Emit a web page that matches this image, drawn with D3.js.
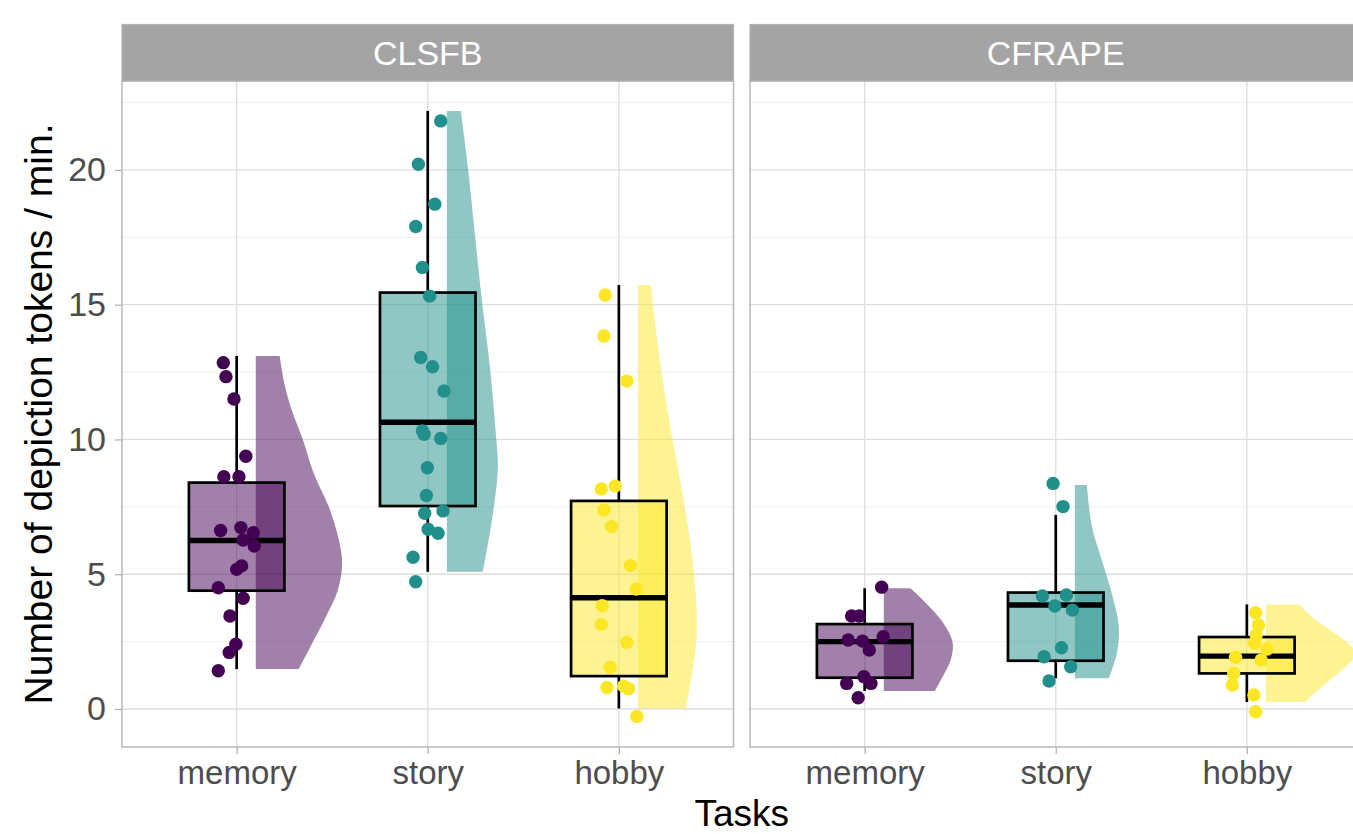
<!DOCTYPE html>
<html>
<head>
<meta charset="utf-8">
<script src="https://cdn.jsdelivr.net/npm/d3@7"></script>
<style>
  body { margin: 0; background: #fff; }
  svg { display: block; }
  text { font-family: "Liberation Sans", Arial, Helvetica, sans-serif; }
</style>
</head>
<body>
<svg id="chart" width="1353" height="834"></svg>
<script>
// ---- categories ----
const tasks = ["memory", "story", "hobby"];
const languages = ["CLSFB", "CFRAPE"];
const taskColors = ["#440154", "#21908C", "#FDE725"];
const yTicks = [0, 5, 10, 15, 20];
const yMinorTicks = [2.5, 7.5, 12.5, 17.5, 22.5];

// ---- box statistics, order: CLSFB memory/story/hobby, CFRAPE memory/story/hobby ----
const whiskerLow  = [1.48, 5.09, 0.02, 0.67, 1.14, 0.26];
const quartile1   = [4.39, 7.53, 1.22, 1.16, 1.79, 1.32];
const medians     = [6.25, 10.64, 4.13, 2.50, 3.86, 1.96];
const quartile3   = [8.40, 15.45, 7.72, 3.15, 4.32, 2.67];
const whiskerHigh = [13.10, 22.19, 15.73, 4.48, 7.20, 3.88];

// ---- observations: [horizontal jitter (in category steps), tokens per minute] ----
const ptsClsfbMemory = [
  [-0.070, 12.85], [-0.056, 12.33], [-0.014, 11.50], [0.048, 9.38], [-0.067, 8.62],
  [0.012, 8.62], [-0.084, 6.62], [0.022, 6.73], [0.087, 6.54], [0.034, 6.27],
  [0.092, 6.05], [0.000, 5.18], [0.026, 5.31], [-0.096, 4.50], [0.034, 4.11],
  [-0.035, 3.45], [-0.004, 2.40], [-0.039, 2.10], [-0.096, 1.42]
];
const ptsClsfbStory = [
  [0.068, 21.82], [-0.049, 20.21], [0.037, 18.73], [-0.063, 17.90], [-0.028, 16.38],
  [0.010, 15.32], [-0.037, 13.04], [0.025, 12.70], [0.085, 11.80], [-0.028, 10.32],
  [-0.019, 10.19], [0.068, 10.04], [-0.002, 8.95], [-0.007, 7.92], [-0.016, 7.26],
  [0.080, 7.35], [0.002, 6.67], [0.054, 6.52], [-0.077, 5.63], [-0.063, 4.72]
];
const ptsClsfbHobby = [
  [-0.071, 15.36], [-0.078, 13.84], [0.042, 12.17], [-0.092, 8.16], [-0.019, 8.27],
  [-0.078, 7.38], [-0.039, 6.77], [0.061, 5.32], [0.091, 4.45], [-0.087, 3.83],
  [-0.092, 3.14], [0.042, 2.47], [-0.045, 1.55], [-0.062, 0.80], [0.025, 0.85],
  [0.051, 0.75], [0.094, -0.28]
];
const ptsCfrapeMemory = [
  [0.089, 4.52], [-0.068, 3.45], [-0.028, 3.45], [-0.086, 2.56], [-0.011, 2.52],
  [0.097, 2.68], [0.024, 2.19], [-0.094, 0.95], [-0.004, 1.20], [0.033, 0.95],
  [-0.034, 0.42]
];
const ptsCfrapeStory = [
  [-0.014, 8.37], [0.038, 7.51], [-0.070, 4.19], [0.056, 4.23], [-0.005, 3.82],
  [0.087, 3.67], [0.030, 2.27], [-0.061, 1.94], [0.078, 1.57], [-0.035, 1.04]
];
const ptsCfrapeHobby = [
  [0.046, 3.57], [0.061, 3.12], [0.049, 2.75], [0.041, 2.44], [0.105, 2.22],
  [-0.059, 1.92], [0.075, 1.82], [-0.069, 1.32], [-0.076, 0.89], [0.037, 0.52],
  [0.046, -0.10]
];

// ---- half-violin density profiles: [tokens per minute, half width in category steps] ----
const violinClsfbMemory = [
  [13.10, 0.125], [12.00, 0.152], [11.20, 0.183], [10.00, 0.246], [8.75, 0.303],
  [7.50, 0.382], [6.30, 0.434], [5.40, 0.452], [4.40, 0.429], [3.50, 0.372],
  [2.50, 0.300], [1.48, 0.225]
];
const violinClsfbStory = [
  [22.19, 0.073], [20.12, 0.110], [17.65, 0.146], [15.18, 0.183], [12.70, 0.225],
  [10.23, 0.256], [9.00, 0.267], [7.76, 0.251], [6.53, 0.225], [5.09, 0.188]
];
const violinClsfbHobby = [
  [15.73, 0.068], [13.44, 0.105], [10.97, 0.157], [8.50, 0.220], [6.02, 0.277],
  [3.55, 0.308], [2.31, 0.303], [1.08, 0.277], [0.02, 0.251]
];
const violinCfrapeMemory = [
  [4.48, 0.141], [3.67, 0.256], [3.05, 0.324], [2.44, 0.361], [1.82, 0.350],
  [1.20, 0.308], [0.67, 0.267]
];
const violinCfrapeStory = [
  [8.31, 0.063], [6.77, 0.089], [5.53, 0.141], [4.29, 0.193], [3.05, 0.230],
  [2.07, 0.220], [1.14, 0.178]
];
const violinCfrapeHobby = [
  [3.88, 0.173], [3.30, 0.261], [2.68, 0.387], [2.30, 0.450], [2.07, 0.471],
  [1.80, 0.450], [1.45, 0.397], [0.83, 0.293], [0.26, 0.204]
];

const pointSets = [ptsClsfbMemory, ptsClsfbStory, ptsClsfbHobby, ptsCfrapeMemory, ptsCfrapeStory, ptsCfrapeHobby];
const violinSets = [violinClsfbMemory, violinClsfbStory, violinClsfbHobby, violinCfrapeMemory, violinCfrapeStory, violinCfrapeHobby];

// ---- layout ----
const svg = d3.select("#chart");
const panelTop = 81, panelBottom = 747, stripTop = 24.5;
const panelW = 611.5;
const panelX = [122, 750];
const gridMajor = "#DEDEDE", gridMinor = "#EDEDED", borderCol = "#B3B3B3";

const y = d3.scaleLinear().domain([-1.41, 23.30]).range([panelBottom, panelTop]);

languages.forEach((lang, p) => {
  const x0 = panelX[p];
  const x = d3.scalePoint().domain(tasks).range([x0, x0 + panelW]).padding(0.6);
  const step = x.step();
  const panel = svg.append("g").attr("class", "panel");

  panel.append("rect")
    .attr("x", x0).attr("y", panelTop).attr("width", panelW).attr("height", panelBottom - panelTop)
    .attr("fill", "#fff");

  // grid
  panel.selectAll(".gminor").data(yMinorTicks).join("line")
    .attr("x1", x0).attr("x2", x0 + panelW)
    .attr("y1", d => y(d)).attr("y2", d => y(d))
    .attr("stroke", gridMinor).attr("stroke-width", 0.9);
  panel.selectAll(".gmajor").data(yTicks).join("line")
    .attr("x1", x0).attr("x2", x0 + panelW)
    .attr("y1", d => y(d)).attr("y2", d => y(d))
    .attr("stroke", gridMajor).attr("stroke-width", 1.3);
  panel.selectAll(".gx").data(tasks).join("line")
    .attr("x1", d => x(d)).attr("x2", d => x(d))
    .attr("y1", panelTop).attr("y2", panelBottom)
    .attr("stroke", gridMajor).attr("stroke-width", 1.3);

  // groups
  tasks.forEach((task, t) => {
    const i = p * 3 + t;
    const cx = x(task);
    const col = taskColors[t];
    const vx = cx + 0.1 * step;

    const area = d3.area()
      .curve(d3.curveCatmullRom)
      .y(d => y(d[0]))
      .x0(vx)
      .x1(d => vx + d[1] * step);
    panel.append("path")
      .attr("d", area(violinSets[i]))
      .attr("fill", col).attr("fill-opacity", 0.5);

    // whiskers
    panel.append("line")
      .attr("x1", cx).attr("x2", cx)
      .attr("y1", y(whiskerHigh[i])).attr("y2", y(quartile3[i]))
      .attr("stroke", "#000").attr("stroke-width", 2.7);
    panel.append("line")
      .attr("x1", cx).attr("x2", cx)
      .attr("y1", y(quartile1[i])).attr("y2", y(whiskerLow[i]))
      .attr("stroke", "#000").attr("stroke-width", 2.7);

    // box
    panel.append("rect")
      .attr("x", cx - 0.25 * step).attr("width", 0.5 * step)
      .attr("y", y(quartile3[i])).attr("height", y(quartile1[i]) - y(quartile3[i]))
      .attr("fill", col).attr("fill-opacity", 0.5)
      .attr("stroke", "#000").attr("stroke-width", 2.7);
    panel.append("line")
      .attr("x1", cx - 0.25 * step).attr("x2", cx + 0.25 * step)
      .attr("y1", y(medians[i])).attr("y2", y(medians[i]))
      .attr("stroke", "#000").attr("stroke-width", 5.4);

    // observations
    panel.selectAll(null).data(pointSets[i]).join("circle")
      .attr("cx", d => cx + d[0] * step)
      .attr("cy", d => y(d[1]))
      .attr("r", 6.7)
      .attr("fill", col);
  });

  // border
  panel.append("rect")
    .attr("x", x0).attr("y", panelTop).attr("width", panelW).attr("height", panelBottom - panelTop)
    .attr("fill", "none").attr("stroke", borderCol).attr("stroke-width", 1.4);

  // strip
  panel.append("rect")
    .attr("x", x0).attr("y", stripTop).attr("width", panelW).attr("height", panelTop - stripTop)
    .attr("fill", "#A4A4A4").attr("stroke", borderCol).attr("stroke-width", 1.2);
  panel.append("text")
    .attr("x", x0 + panelW / 2).attr("y", (stripTop + panelTop) / 2)
    .attr("dy", "0.36em")
    .attr("text-anchor", "middle")
    .attr("fill", "#fff")
    .attr("font-size", 34)
    .text(lang);

  // bottom axis
  const xAxis = svg.append("g")
    .attr("transform", `translate(0,${panelBottom})`)
    .call(d3.axisBottom(x).tickSize(7).tickPadding(7));
  xAxis.select(".domain").remove();
  xAxis.selectAll(".tick line").attr("stroke", borderCol).attr("stroke-width", 1.3);
  xAxis.selectAll(".tick text")
    .attr("fill", "#4D4D4D").attr("font-size", 33)
    .attr("font-family", "Liberation Sans, Arial, sans-serif");

  if (p === 0) {
    const yAxis = svg.append("g")
      .attr("transform", `translate(${x0},0)`)
      .call(d3.axisLeft(y).tickValues(yTicks).tickSize(7).tickPadding(9));
    yAxis.select(".domain").remove();
    yAxis.selectAll(".tick line").attr("stroke", borderCol).attr("stroke-width", 1.3);
    yAxis.selectAll(".tick text")
      .attr("fill", "#4D4D4D").attr("font-size", 34)
      .attr("font-family", "Liberation Sans, Arial, sans-serif");
  }
});

// axis titles
svg.append("text")
  .attr("transform", `translate(52,${(panelTop + panelBottom) / 2}) rotate(-90)`)
  .attr("text-anchor", "middle")
  .attr("fill", "#000")
  .attr("font-size", 39)
  .text("Number of depiction tokens / min.");

svg.append("text")
  .attr("x", (panelX[0] + panelX[1] + panelW) / 2)
  .attr("y", 826)
  .attr("text-anchor", "middle")
  .attr("fill", "#000")
  .attr("font-size", 37)
  .text("Tasks");
</script>
</body>
</html>
